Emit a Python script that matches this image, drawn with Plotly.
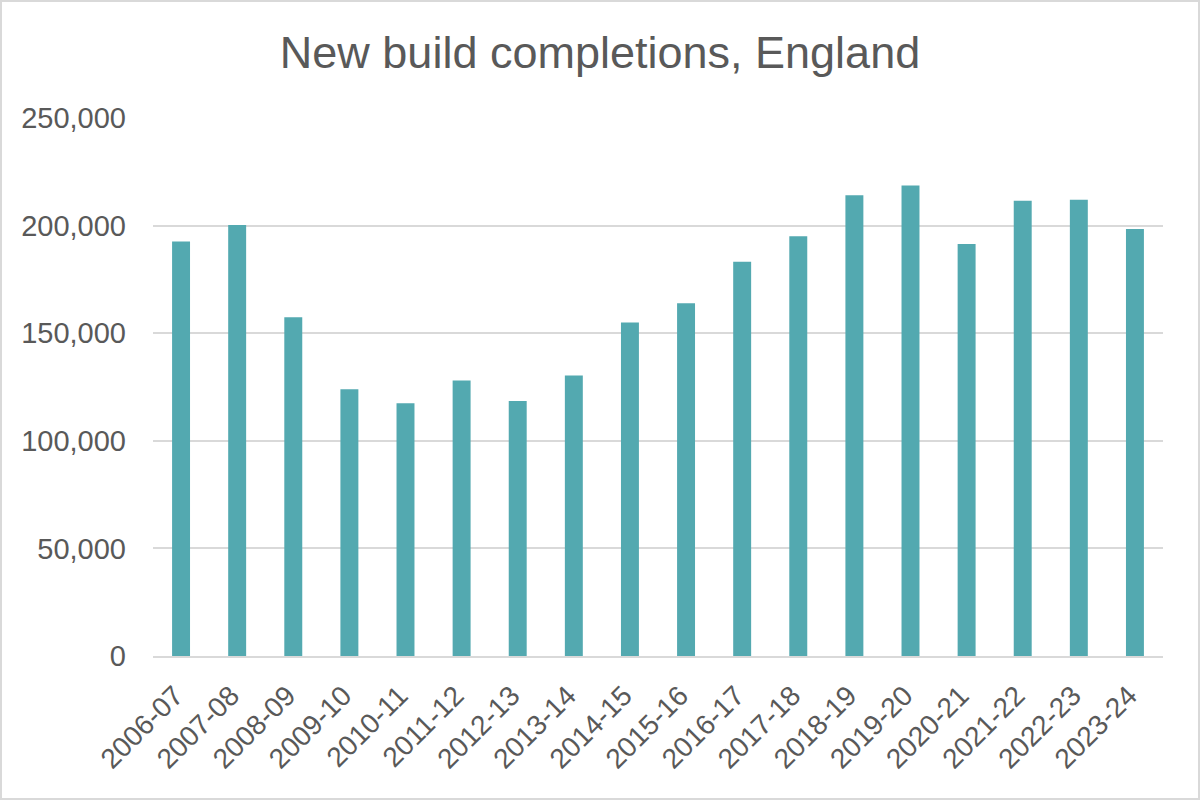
import plotly.graph_objects as go

years = ["2006-07", "2007-08", "2008-09", "2009-10", "2010-11", "2011-12",
         "2012-13", "2013-14", "2014-15", "2015-16", "2016-17", "2017-18",
         "2018-19", "2019-20", "2020-21", "2021-22", "2022-23", "2023-24"]
completions = [192650, 200300, 157370, 124000, 117400, 128000,
               118500, 130300, 155000, 163900, 183200, 195000,
               214100, 218600, 191400, 211500, 212000, 198400]

title_text = "New build completions, England"
font_family = "Liberation Sans, Arial, sans-serif"
text_color = "#595959"
grid_color = "#D9D9D9"
bar_color = "#53A9B0"

fig = go.Figure(
    go.Bar(x=years, y=completions, marker=dict(color=bar_color, line=dict(width=0)))
)

L, R, T, B = 153, 37, 118, 144
W, H = 1200, 800
pw, ph = W - L - R, H - T - B

fig.update_layout(
    width=W, height=H,
    margin=dict(l=L, r=R, t=T, b=B, pad=0),
    paper_bgcolor="white", plot_bgcolor="white",
    bargap=0.68,
    font=dict(family=font_family, color=text_color, size=29),
    title=dict(text=title_text, x=0.5, xanchor="center", y=1 - 52 / H, yanchor="middle",
               font=dict(size=45, color=text_color, family=font_family)),
    showlegend=False,
)
fig.update_yaxes(range=[0, 250000], dtick=50000, tickformat=",d",
                 showgrid=True, gridcolor=grid_color, gridwidth=1.5,
                 zeroline=False, showline=False, ticks="", ticklabelstandoff=26,
                 tickfont=dict(size=29, color=text_color))
fig.update_xaxes(type="category", tickangle=-45, showline=True, linecolor=grid_color, linewidth=2,
                 showgrid=False, ticks="", ticklabelstandoff=10, ticklabelshift=-6,
                 tickfont=dict(size=28, color=text_color))

# outer border of the chart area
fig.add_shape(type="rect", xref="paper", yref="paper",
              x0=(1 - L) / pw, x1=(W - 1 - L) / pw,
              y0=(H - B - (H - 1)) / ph, y1=(H - B - 1) / ph,
              line=dict(color=grid_color, width=2), fillcolor="rgba(0,0,0,0)", layer="below")

fig.write_html("out.html", config={"displayModeBar": False},
               post_script="document.body.style.margin='0';")
